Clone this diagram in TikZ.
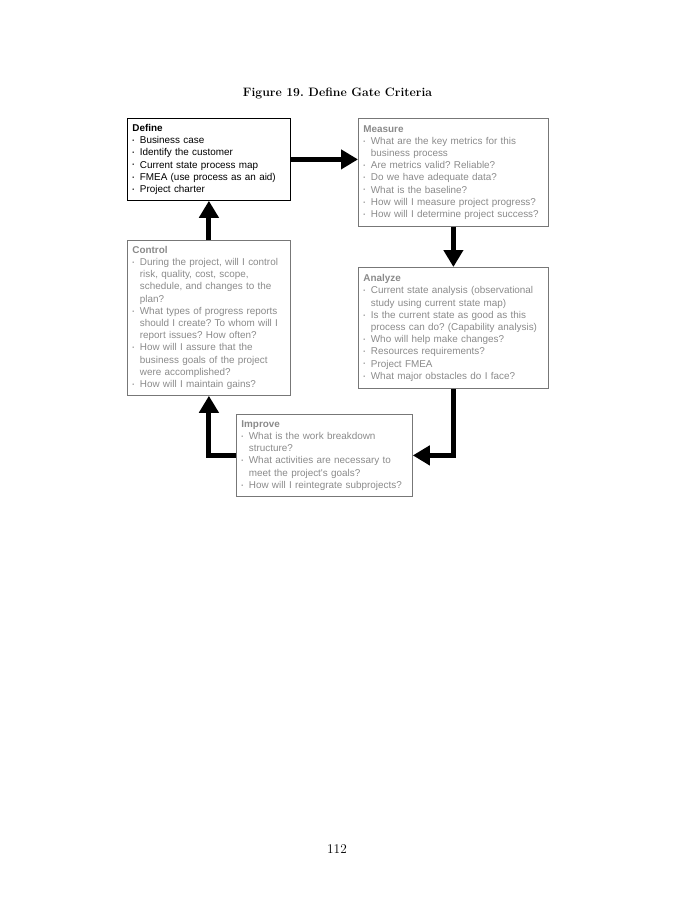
\documentclass[tikz,border=0pt]{standalone}
\usepackage{fontspec}
\usepackage{graphicx}
\usepackage{xcolor}
\usepackage{tikz}
\usetikzlibrary{positioning,arrows.meta,calc}
\newfontfamily\boxfont{Liberation Sans}
\frenchspacing
\definecolor{boxgray}{HTML}{777777}
\definecolor{txtgray}{HTML}{8A8A8A}
\newcommand{\bul}{\makebox[7.5pt][l]{\raisebox{1.2pt}{\scalebox{0.55}{•}}}}
\newcommand{\ind}{\hspace*{7.5pt}}
\tikzset{
gatebox/.style={
draw=boxgray,
line width=0.8pt,
anchor=north west,
inner xsep=5pt,
inner ysep=2pt,
align=left,
text=txtgray,
font=\boxfont\fontsize{9.9}{12.2}\selectfont
},
activebox/.style={
gatebox,
draw=black,
text=black
},
flow/.style={
-{Triangle[length=17pt,width=19pt]},
line width=5pt
}
}

\begin{document}
\begin{tikzpicture}[x=1pt,y=-1pt]
\useasboundingbox (0,0) rectangle (674,900);
\node[font=\bfseries\fontsize{12.2}{14}\selectfont](title) at (337.5,93){Figure 19. Define Gate Criteria};
\node[activebox,text width=153pt,minimum height=82pt](define) at (127,118){\textbf{Define}\\
\bul Business case\\
\bul Identify the customer\\
\bul Current state process map\\
\bul FMEA (use process as an aid)\\
\bul Project charter};
\node[gatebox,text width=180pt,minimum height=108pt](measure) at (358,118){\textbf{Measure}\\
\bul What are the key metrics for this\\
\ind business process\\
\bul Are metrics valid? Reliable?\\
\bul Do we have adequate data?\\
\bul What is the baseline?\\
\bul How will I measure project progress?\\
\bul How will I determine project success?};
\node[gatebox,text width=153pt,minimum height=155pt](control) at (127,240){\textbf{Control}\\
\bul During the project, will I control\\
\ind risk, quality, cost, scope,\\
\ind schedule, and changes to the\\
\ind plan?\\
\bul What types of progress reports\\
\ind should I create? To whom will I\\
\ind report issues? How often?\\
\bul How will I assure that the\\
\ind business goals of the project\\
\ind were accomplished?\\
\bul How will I maintain gains?};
\node[gatebox,text width=180pt,minimum height=121pt](analyze) at (358,267){\textbf{Analyze}\\
\bul Current state analysis (observational\\
\ind study using current state map)\\
\bul Is the current state as good as this\\
\ind process can do? (Capability analysis)\\
\bul Who will help make changes?\\
\bul Resources requirements?\\
\bul Project FMEA\\
\bul What major obstacles do I face?};
\node[gatebox,text width=166pt,minimum height=82pt](improve) at (236,414){\textbf{Improve}\\
\bul What is the work breakdown\\
\ind structure?\\
\bul What activities are necessary to\\
\ind meet the project's goals?\\
\bul How will I reintegrate subprojects?};
\node[font=\fontsize{13.3}{16}\selectfont](page) at (337,849){112};

\draw[flow](define)--(define-|measure.west);
\draw[flow](measure)--(analyze);
\draw[flow](analyze.south)|-(improve.east);
\draw[flow](improve.west)-|(control.south);
\draw[flow](control)--(define);
\end{tikzpicture}
\end{document}
